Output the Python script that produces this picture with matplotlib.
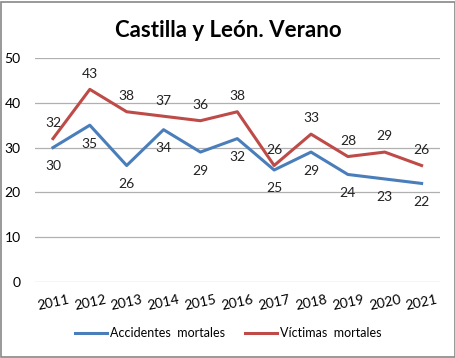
import matplotlib.pyplot as plt
from matplotlib.patches import Rectangle

plt.rcParams['font.family'] = ['Lato', 'DejaVu Sans']

years = ['2011', '2012', '2013', '2014', '2015', '2016', '2017', '2018', '2019', '2020', '2021']
accidentes = [30, 35, 26, 34, 29, 32, 25, 29, 24, 23, 22]
victimas = [32, 43, 38, 37, 36, 38, 26, 33, 28, 29, 26]

blue = '#4A7EBB'
red = '#BE4B48'

fig = plt.figure(figsize=(4.56, 3.58), dpi=100)
ax = fig.add_axes([0.0757, 0.2123, 0.8893, 0.6257])

x = list(range(len(years)))
ax.plot(x, accidentes, color=blue, linewidth=2.2, label='Accidentes  mortales')
ax.plot(x, victimas, color=red, linewidth=2.2, label='Víctimas  mortales')

for i in x:
    ax.annotate(str(accidentes[i]), (i, accidentes[i]), xytext=(0, -9), textcoords='offset points',
                ha='center', va='top', fontsize=10, color='#222222')
    ax.annotate(str(victimas[i]), (i, victimas[i]), xytext=(0, 7), textcoords='offset points',
                ha='center', va='bottom', fontsize=10, color='#222222')

ax.set_xlim(-0.5, len(years) - 0.5)
ax.set_ylim(0, 50)
ax.set_yticks([0, 10, 20, 30, 40, 50])
ax.set_xticks(x)
ax.set_xticklabels(years, rotation=12, fontsize=10)
ax.tick_params(axis='y', labelsize=10, length=0, pad=10)
ax.tick_params(axis='x', length=0, pad=8)
ax.grid(axis='y', color='#b0b0b0', linewidth=0.9)
ax.set_axisbelow(True)
for s in ax.spines.values():
    s.set_visible(False)

fig.text(0.5, 0.915, 'Castilla y León. Verano', ha='center', va='center', fontsize=16, fontweight='bold')

fig.legend(loc='center', bbox_to_anchor=(0.5, 0.07), ncol=2, frameon=False, fontsize=9,
           handlelength=2.6, columnspacing=1.6, handletextpad=0.2)

fig.patches.append(Rectangle((0.003, 0.004), 0.994, 0.99, transform=fig.transFigure,
                             fill=False, edgecolor='#888888', linewidth=1.2))

fig.savefig('out.png', dpi=100)
